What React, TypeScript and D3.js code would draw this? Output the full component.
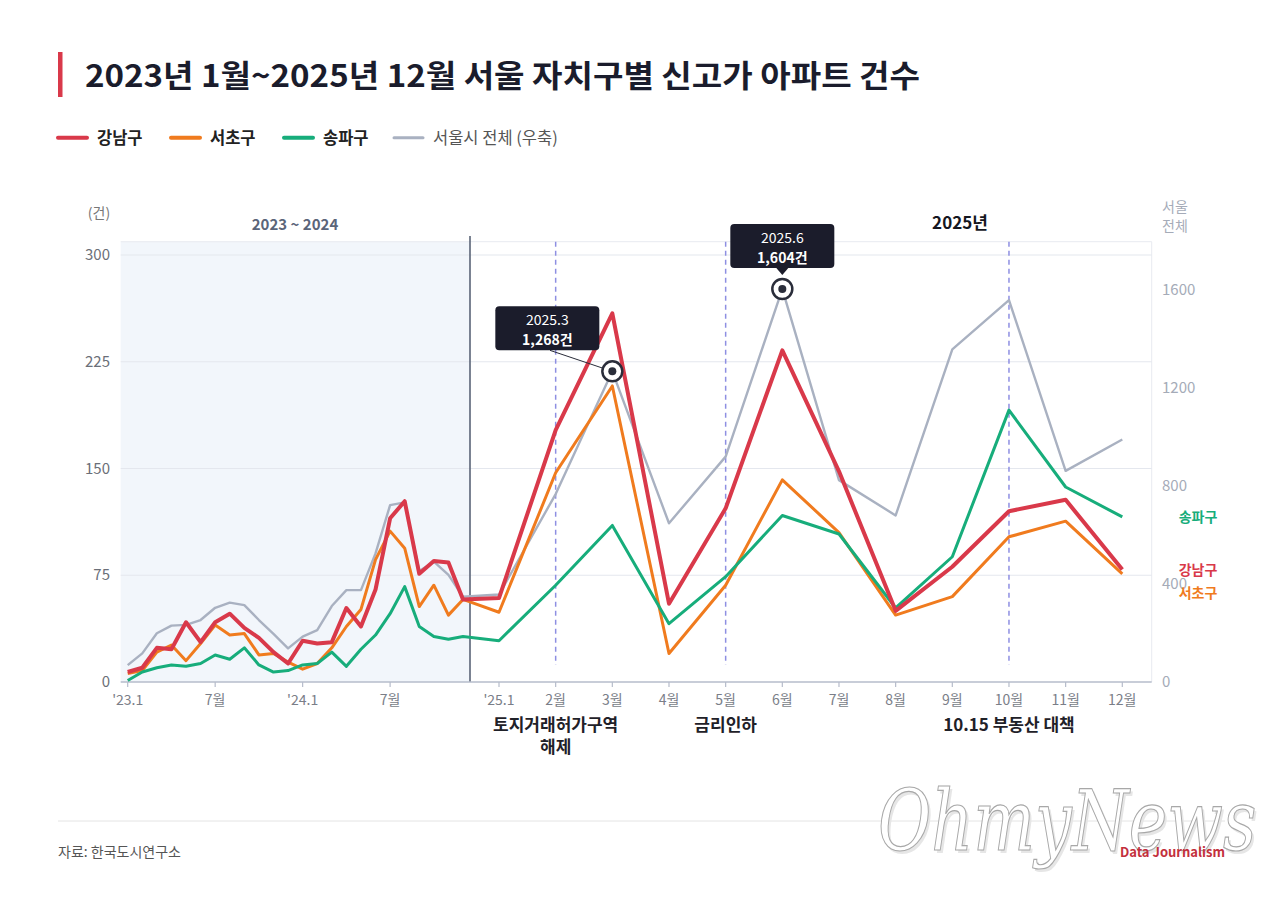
import React from 'react'
import * as d3 from 'd3'

// monthly counts, 2023.1 ~ 2025.12 (36 months)
const gangnam = [7, 10, 24, 23, 42, 28, 42, 48, 38, 31, 21, 13, 29, 27, 28, 52, 39, 65, 115, 127, 76, 85, 84, 58, 59, 177, 259, 55, 122, 233, 148, 50, 81, 120, 128, 79]
const seocho = [6, 8, 21, 26, 15, 27, 40, 33, 34, 19, 20, 14, 9, 13, 24, 39, 51, 86, 106, 94, 53, 68, 47, 58, 49, 147, 208, 20, 68, 142, 105, 47, 60, 102, 113, 76]
const songpa = [1, 7, 10, 12, 11, 13, 19, 16, 24, 12, 7, 8, 12, 13, 21, 11, 23, 33, 48, 67, 39, 32, 30, 32, 29, 68, 110, 41, 74, 117, 104, 52, 88, 191, 137, 116]
const seoulTotal = [69, 117, 199, 230, 233, 253, 303, 324, 314, 253, 196, 137, 185, 212, 310, 375, 375, 525, 722, 733, 453, 491, 437, 348, 357, 767, 1268, 648, 920, 1604, 824, 680, 1358, 1559, 862, 990]

const tickIdx = [0, 6, 12, 18, 24, 25, 26, 27, 28, 29, 30, 31, 32, 33, 34, 35]
const tickLabels = ["'23.1", '7월', "'24.1", '7월', "'25.1", '2월', '3월', '4월', '5월', '6월', '7월', '8월', '9월', '10월', '11월', '12월']
const leftTicks = [0, 75, 150, 225, 300]
const rightTicks = [0, 400, 800, 1200, 1600]

const events = [
	{ i: 25, lines: ['토지거래허가구역', '해제'] },
	{ i: 28, lines: ['금리인하'] },
	{ i: 33, lines: ['10.15 부동산 대책'] },
]

const callouts = [
	{ i: 26, date: '2025.3' },
	{ i: 29, date: '2025.6' },
]

const FONT = '"Noto Sans CJK KR", "Noto Sans", sans-serif'

const C = {
	red: '#d9394a',
	orange: '#f07b1e',
	green: '#17ad7b',
	gray: '#a9b1c1',
}

export default function App() {
	const left = 120.7
	const right = 1151.7
	const top = 241.7
	const bottom = 682
	const divider = 470

	// two different month widths: 2023~24 is compressed, 2025 is stretched
	const x = d3.scaleLinear().domain([0, 23, 24, 35]).range([127.7, 463, 499, 1122.3])
	const yL = d3.scaleLinear().domain([0, 300]).range([bottom, 255])
	const yR = d3.scaleLinear().domain([0, 1743]).range([bottom, 255])

	const lineL = d3.line<number>().x((_, i) => x(i)).y(d => yL(d))
	const lineR = d3.line<number>().x((_, i) => x(i)).y(d => yR(d))
	const fmt = d3.format(',')

	const series = [
		{ name: '서초구', data: seocho, color: C.orange, w: 3 },
		{ name: '송파구', data: songpa, color: C.green, w: 3 },
		{ name: '강남구', data: gangnam, color: C.red, w: 4 },
	]

	const legend = [
		{ name: '강남구', color: C.red, x: 58, bold: true },
		{ name: '서초구', color: C.orange, x: 171, bold: true },
		{ name: '송파구', color: C.green, x: 284, bold: true },
		{ name: '서울시 전체 (우축)', color: C.gray, x: 394, bold: false },
	]

	const endLabels = [
		{ name: '송파구', color: C.green, y: yL(songpa[35]) + 5 },
		{ name: '강남구', color: C.red, y: yL(gangnam[35]) + 5 },
		{ name: '서초구', color: C.orange, y: yL(seocho[35]) + 24 },
	]

	return (
		<svg width={1283} height={904} style={{ position: 'absolute', left: 0, top: 0, background: '#fff' }} fontFamily={FONT}>
			{/* title */}
			<rect x={58} y={52} width={4.5} height={45} fill={C.red} />
			<text x={85} y={87} fontSize={31} fontWeight={700} fill="#1a1c2c" textLength={835} lengthAdjust="spacingAndGlyphs">2023년 1월~2025년 12월 서울 자치구별 신고가 아파트 건수</text>

			{/* legend */}
			{legend.map(l => (
				<g key={l.name}>
					<line x1={l.x} x2={l.x + 29} y1={137.7} y2={137.7} stroke={l.color} strokeWidth={l.bold ? 4 : 3} strokeLinecap="round" />
					<text x={l.x + 39} y={143.5} fontSize={16.5} fontWeight={l.bold ? 700 : 400} fill={l.bold ? '#222' : '#555'}>{l.name}</text>
				</g>
			))}

			{/* plot background */}
			<rect x={left} y={top} width={divider - left} height={bottom - top} fill="#f2f6fb" />
			<line x1={left} x2={right} y1={top} y2={top} stroke="#e8eaf0" />
			<line x1={right} x2={right} y1={top} y2={bottom} stroke="#e8eaf0" />

			{/* grid */}
			{leftTicks.filter(t => t > 0).map(t => (
				<line key={t} x1={left} x2={right} y1={yL(t)} y2={yL(t)} stroke="#e4e7ee" strokeWidth={1.2} />
			))}

			{/* axes labels */}
			{leftTicks.map(t => (
				<text key={t} x={110} y={yL(t) + 5} textAnchor="end" fontSize={15} fill="#6b6f78">{t}</text>
			))}
			{rightTicks.map(t => (
				<text key={t} x={1162} y={yR(t) + 5} fontSize={15} fill="#a5abb8">{t}</text>
			))}
			<text x={99} y={218} textAnchor="middle" fontSize={14} fill="#777">(건)</text>
			<text x={1162} y={212} fontSize={14} fill="#a5abb8">서울</text>
			<text x={1162} y={231} fontSize={14} fill="#a5abb8">전체</text>

			<text x={295} y={230} textAnchor="middle" fontSize={15} fontWeight={700} fill="#5b6579">2023 ~ 2024</text>
			<text x={960} y={229} textAnchor="middle" fontSize={17} fontWeight={700} fill="#15171f">2025년</text>

			{/* event markers */}
			{events.map(e => (
				<line key={e.i} x1={x(e.i)} x2={x(e.i)} y1={top} y2={665} stroke="#8e8fe2" strokeWidth={1.5} strokeDasharray="5,4" />
			))}

			{/* divider 2024 | 2025 */}
			<line x1={divider} x2={divider} y1={236} y2={bottom} stroke="#5a6477" strokeWidth={1.6} />

			{/* x axis */}
			<line x1={left} x2={right} y1={bottom} y2={bottom} stroke="#b6bccb" strokeWidth={1.5} />
			{tickIdx.map((t, k) => (
				<g key={t}>
					<line x1={x(t)} x2={x(t)} y1={bottom} y2={bottom + 5} stroke="#b6bccb" strokeWidth={1.2} />
					<text x={x(t)} y={705} textAnchor="middle" fontSize={14} fill="#7a7e88">{tickLabels[k]}</text>
				</g>
			))}
			{events.map(e => e.lines.map((s, k) => (
				<text key={e.i + s} x={x(e.i)} y={731 + k * 22} textAnchor="middle" fontSize={17} fontWeight={700} fill="#1f2128">{s}</text>
			)))}

			{/* lines */}
			<path d={lineR(seoulTotal) || ''} fill="none" stroke={C.gray} strokeWidth={2.4} strokeLinejoin="round" />
			{series.map(s => (
				<path key={s.name} d={lineL(s.data) || ''} fill="none" stroke={s.color} strokeWidth={s.w} strokeLinejoin="round" />
			))}

			{/* end labels */}
			{endLabels.map(l => (
				<text key={l.name} x={1198} y={l.y} textAnchor="middle" fontSize={14} fontWeight={700} fill={l.color}>{l.name}</text>
			))}

			{/* callouts */}
			{callouts.map((c, k) => {
				const mx = x(c.i)
				const my = yR(seoulTotal[c.i])
				const bw = 104
				const bh = 44
				const bx = k === 0 ? mx - 117 : mx - bw / 2
				const by = my - 65
				return (
					<g key={c.date}>
						{k === 0 && <line x1={550} y1={by + bh} x2={mx} y2={my} stroke="#2a2d3a" strokeWidth={1} />}
						<rect x={bx} y={by} width={bw} height={bh} rx={4} fill="#1b1c2b" />
						{k === 1 && <path d={`M${mx - 6},${by + bh} L${mx + 6},${by + bh} L${mx},${by + bh + 7} Z`} fill="#1b1c2b" />}
						<text x={bx + bw / 2} y={by + 19} textAnchor="middle" fontSize={14} fill="#fff">{c.date}</text>
						<text x={bx + bw / 2} y={by + 39} textAnchor="middle" fontSize={14} fontWeight={700} fill="#fff">{fmt(seoulTotal[c.i])}건</text>
						<circle cx={mx} cy={my} r={10} fill="#fff" stroke="#2a2d3a" strokeWidth={2.5} />
						<circle cx={mx} cy={my} r={4} fill="#2a2d3a" />
					</g>
				)
			})}

			{/* footer */}
			<line x1={58} x2={1225} y1={821} y2={821} stroke="#e4e4e4" />
			<text x={58} y={857} fontSize={14} fill="#555">자료: 한국도시연구소</text>
			<g transform="translate(878,850) scale(0.775,1)">
				<text x={3} y={3} fontSize={84} fontStyle="italic" fontFamily='"DejaVu Serif", serif' fill="#e6e6e6">OhmyNews</text>
				<text x={0} y={0} fontSize={84} fontStyle="italic" fontFamily='"DejaVu Serif", serif' fill="#fff" stroke="#a8a8a8" strokeWidth={1.2}>OhmyNews</text>
			</g>
			<text x={1225} y={857} textAnchor="end" fontSize={13} fontWeight={700} fill="#c3303c">Data Journalism</text>
		</svg>
	)
}
